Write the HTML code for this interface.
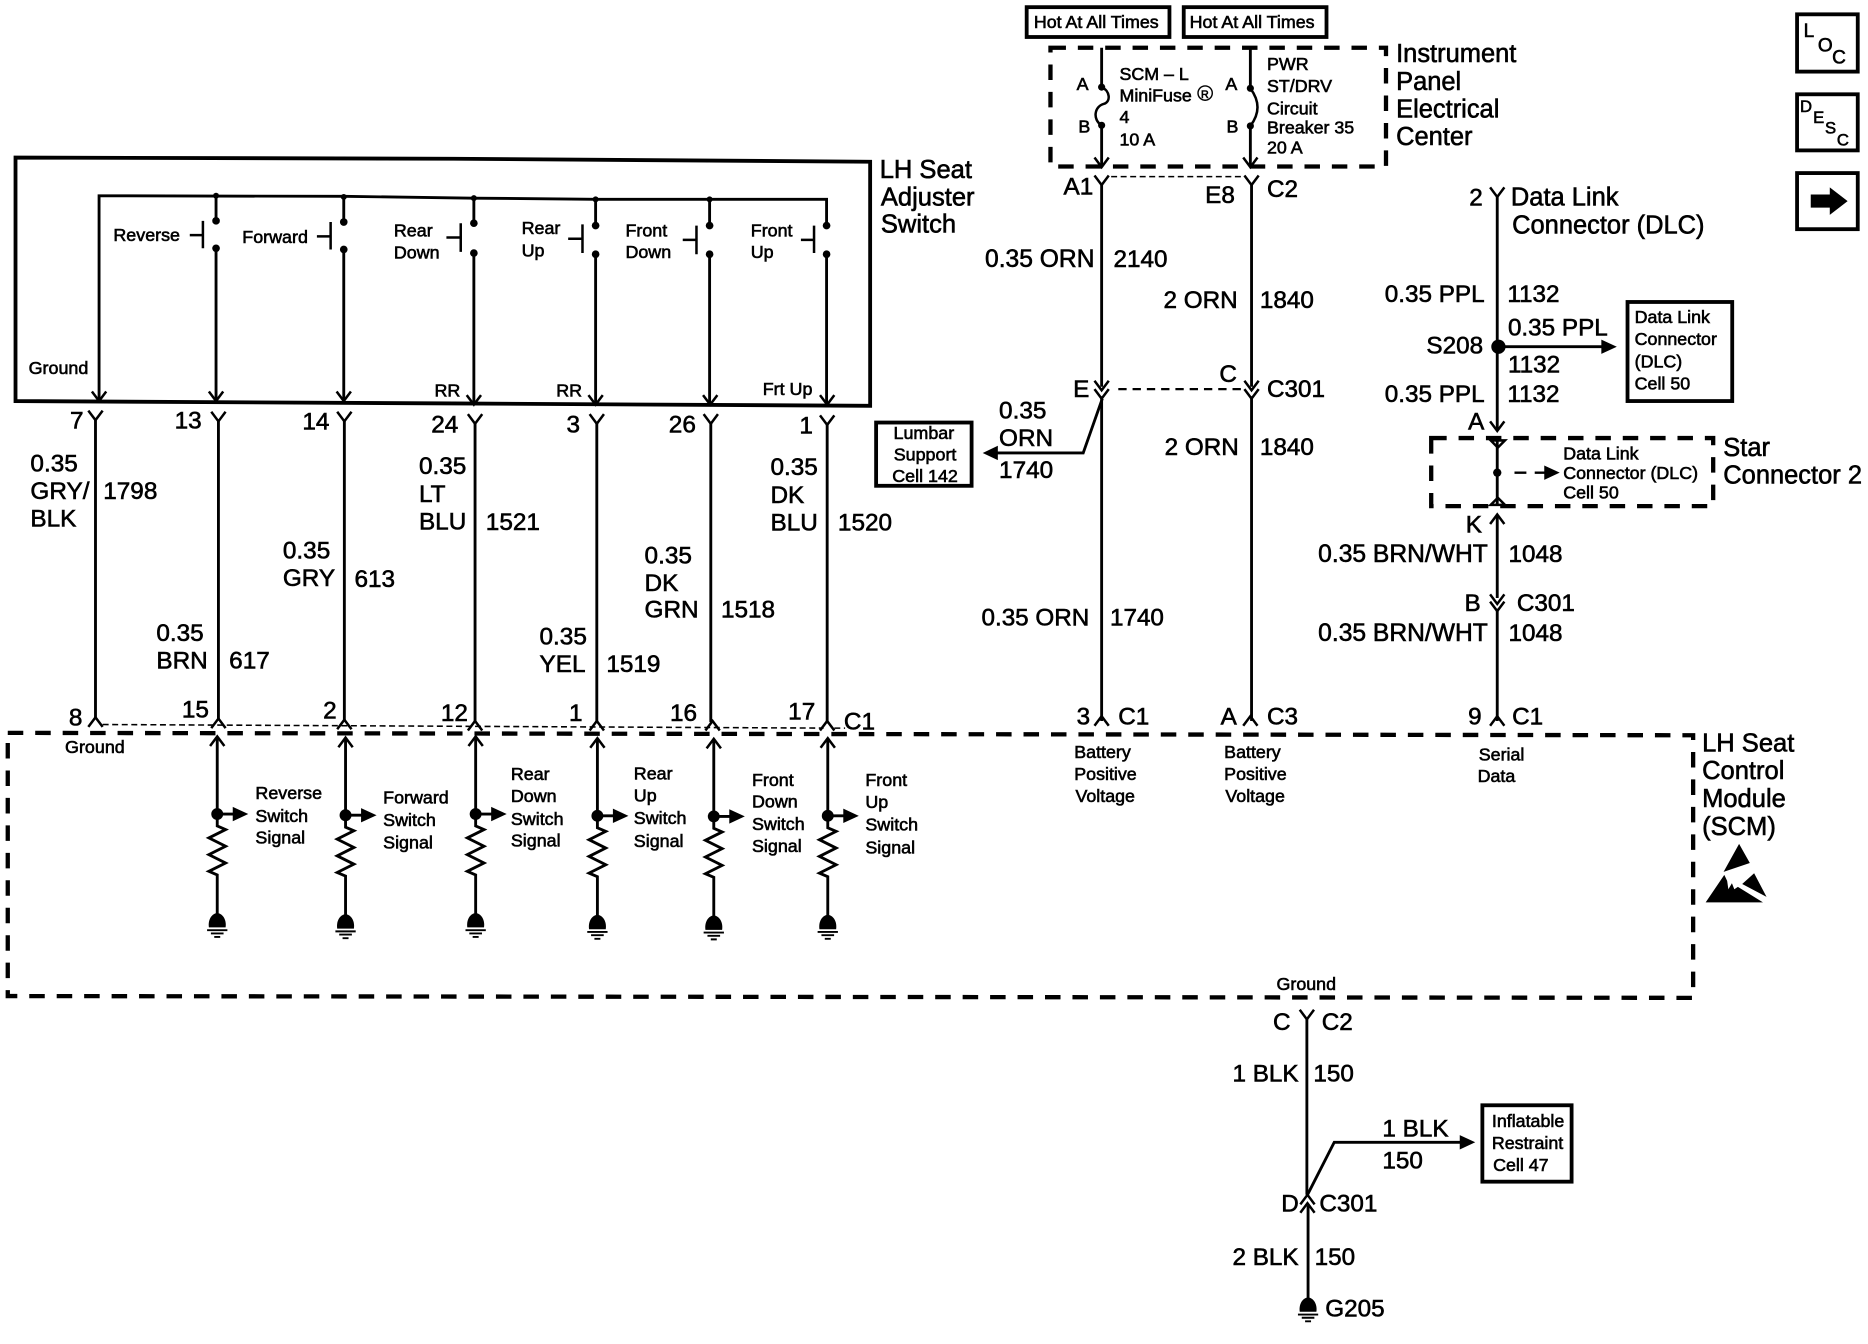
<!DOCTYPE html>
<html><head><meta charset="utf-8"><style>
html,body{margin:0;padding:0;background:#fff}
svg{display:block}
text{font-family:"Liberation Sans",Arial,sans-serif;fill:#000;stroke:#000;stroke-width:.5}
.l{font-size:20.4px}.s{font-size:15px}.e{text-anchor:end}.k{font-size:21.4px}.m{font-size:20.7px}
.w{fill:none;stroke:#000;stroke-width:2.4}
.t{fill:none;stroke:#000;stroke-width:2.1}
.d{fill:none;stroke:#000;stroke-width:3.6;stroke-dasharray:13 10}
.f{fill:none;stroke:#000;stroke-width:1.3;stroke-dasharray:5 3}
.b{fill:none;stroke:#000;stroke-width:3.2}
</style></head><body>
<svg xmlns="http://www.w3.org/2000/svg" width="1868" height="1344" viewBox="0 0 1565 1126" preserveAspectRatio="none">
<defs>
<path id="dn" class="t" d="M-6,-8 L0,0 L6,-8"/>
<path id="up" class="t" d="M-6,8 L0,0 L6,8"/>
<path id="hd" d="M-13,-6 L0,0 L-13,6z" fill="#000"/>
<g id="gnd"><path d="M-7,12 C-8,5 -4,0 0,0 C4,0 8,5 7,12z" fill="#000"/><path d="M-8.500,14.300 H8.500 M-5.300,17 H5.300 M-2.500,20 H2.500" class="t" style="stroke-width:1.600"/></g>
<g id="sig">
<path class="w" d="M0,0 V65 M0,65 H16"/>
<use href="#up" x="0" y="0"/>
<circle cx="0" cy="65" r="5" fill="#000"/>
<use href="#hd" x="26" y="65"/>
<path class="w" d="M0,65 V75 L7,78 L-7,85 L7,92 L-7,99 L7,106 L-7,113 L0,116 V150"/>
<use href="#gnd" x="0" y="148"/>
</g>
</defs>

<!-- LH seat adjuster switch -->
<path class="b" d="M13,132 L380,133 L729,135.500 V340 L380,338 L13,336 Z"/>
<path class="w" d="M83,336 V164 L288,164.500 L397,166 L499,167 H692.500 V187"/>
<use href="#dn" x="83" y="336"/><use href="#dn" x="181" y="336"/><use href="#dn" x="288" y="336"/><use href="#dn" x="397" y="339"/><use href="#dn" x="499" y="339"/><use href="#dn" x="595" y="339"/><use href="#dn" x="693" y="339"/>
<path class="w" d="M181,164 V185 M181,208 V336"/><path class="w" d="M288,164.500 V186 M288,209 V336"/><path class="w" d="M397,166 V187 M397,212 V339"/><path class="w" d="M499,167 V189 M499,213 V339"/><path class="w" d="M594.500,167 V189 M594.500,213 V339"/><path class="w" d="M692.500,213 V339"/>
<g fill="#000">
<circle cx="181" cy="164" r="2.500"/><circle cx="288" cy="165" r="2.500"/><circle cx="397" cy="166" r="2.500"/><circle cx="499" cy="167" r="2.500"/><circle cx="594.500" cy="167" r="2.500"/>
<circle cx="181" cy="185" r="3.200"/><circle cx="181" cy="208" r="3.200"/><circle cx="288" cy="186" r="3.200"/><circle cx="288" cy="209" r="3.200"/><circle cx="397" cy="187" r="3.200"/><circle cx="397" cy="212" r="3.200"/><circle cx="499" cy="189" r="3.200"/><circle cx="499" cy="213" r="3.200"/><circle cx="594.500" cy="189" r="3.200"/><circle cx="594.500" cy="213" r="3.200"/><circle cx="692.500" cy="189" r="3.200"/><circle cx="692.500" cy="213" r="3.200"/>
</g>
<path class="t" d="M170,185 V208 M159,197 H170 M277,186 V209 M265.500,198 H277 M386,187 V211 M374,199 H386 M488,188 V212 M476,200 H488 M583.500,189 V213 M572,201 H583.500 M682,189 V212 M671,201 H682"/>
<text class="s" x="95" y="202">Reverse</text><text class="s" x="203" y="203.500">Forward</text>
<text class="s" x="330" y="198">Rear</text><text class="s" x="330" y="216.500">Down</text>
<text class="s" x="437" y="196">Rear</text><text class="s" x="437" y="215">Up</text>
<text class="s" x="524" y="198">Front</text><text class="s" x="524" y="216">Down</text>
<text class="s" x="629" y="198">Front</text><text class="s" x="629" y="216">Up</text>
<text class="s" x="24" y="313.500">Ground</text><text class="s" x="364" y="332">RR</text><text class="s" x="466" y="332">RR</text><text class="s" x="639" y="331">Frt Up</text>
<text class="k" x="737" y="149">LH Seat</text><text class="k" x="738" y="172">Adjuster</text><text class="k" x="738" y="195">Switch</text>

<!-- Seat wires -->
<path class="w" d="M80,352 V602 M183,352 V603 M288.500,352 V604 M398,354 V605 M500,354 V605 M595.500,354 V605 M693,354 V606"/>
<use href="#dn" x="80" y="352"/><use href="#dn" x="183" y="353"/><use href="#dn" x="288.500" y="353"/><use href="#dn" x="398" y="355"/><use href="#dn" x="500" y="355"/><use href="#dn" x="595.500" y="355"/><use href="#dn" x="693" y="356"/>
<use href="#up" x="80" y="601"/><use href="#up" x="183" y="602"/><use href="#up" x="288.500" y="603"/><use href="#up" x="398" y="604"/><use href="#up" x="500" y="604"/><use href="#up" x="597" y="604"/><use href="#up" x="693" y="604"/>
<path class="f" d="M86,607 L690,610 M699,610 L708,610"/>
<text class="l e" x="70" y="359">7</text><text class="l e" x="169" y="359">13</text><text class="l e" x="276" y="360">14</text><text class="l e" x="384" y="362.500">24</text><text class="l e" x="486" y="362.500">3</text><text class="l e" x="583" y="362.500">26</text><text class="l e" x="681" y="363">1</text>
<text class="l e" x="69" y="608">8</text><text class="l e" x="175" y="601">15</text><text class="l e" x="282" y="602">2</text><text class="l e" x="392" y="604">12</text><text class="l e" x="488" y="604">1</text><text class="l e" x="584" y="604">16</text><text class="l e" x="683" y="603">17</text><text class="l" x="707" y="611">C1</text>

<text class="l" x="25.500" y="395">0.35</text><text class="l" x="25.500" y="418">GRY/</text><text class="l" x="25.500" y="441">BLK</text><text class="l" x="86.500" y="418">1798</text>
<text class="l" x="131" y="537">0.35</text><text class="l" x="131" y="560">BRN</text><text class="l" x="192" y="560">617</text>
<text class="l" x="237" y="468">0.35</text><text class="l" x="237" y="491">GRY</text><text class="l" x="297" y="492">613</text>
<text class="l" x="351" y="397">0.35</text><text class="l" x="351" y="420.500">LT</text><text class="l" x="351" y="443.500">BLU</text><text class="l" x="407" y="444">1521</text>
<text class="l" x="452" y="540">0.35</text><text class="l" x="452" y="563">YEL</text><text class="l" x="508" y="563">1519</text>
<text class="l" x="540" y="472">0.35</text><text class="l" x="540" y="495">DK</text><text class="l" x="540" y="517.500">GRN</text><text class="l" x="604" y="517.500">1518</text>
<text class="l" x="645.500" y="398">0.35</text><text class="l" x="645.500" y="421.500">DK</text><text class="l" x="645.500" y="444.500">BLU</text><text class="l" x="702" y="444.500">1520</text>

<!-- SCM box -->
<path class="d" d="M6.500,614 L1418.500,616 V836 L6.500,834.500 Z"/>
<text class="s" x="54.500" y="631">Ground</text>
<use href="#sig" x="182" y="617"/><use href="#sig" x="289.500" y="618"/><use href="#sig" x="398.500" y="617"/><use href="#sig" x="500.500" y="618.500"/><use href="#sig" x="598" y="619"/><use href="#sig" x="693.500" y="618.500"/>
<text class="s" x="214" y="669.500">Reverse</text><text class="s" x="214" y="688.500">Switch</text><text class="s" x="214" y="706.500">Signal</text>
<text class="s" x="321" y="673">Forward</text><text class="s" x="321" y="692">Switch</text><text class="s" x="321" y="711">Signal</text>
<text class="s" x="428" y="653.500">Rear</text><text class="s" x="428" y="672">Down</text><text class="s" x="428" y="691">Switch</text><text class="s" x="428" y="709">Signal</text>
<text class="s" x="531" y="653">Rear</text><text class="s" x="531" y="671.500">Up</text><text class="s" x="531" y="690.500">Switch</text><text class="s" x="531" y="709.500">Signal</text>
<text class="s" x="630" y="658.500">Front</text><text class="s" x="630" y="676.500">Down</text><text class="s" x="630" y="695.500">Switch</text><text class="s" x="630" y="714">Signal</text>
<text class="s" x="725" y="658.500">Front</text><text class="s" x="725" y="677">Up</text><text class="s" x="725" y="696">Switch</text><text class="s" x="725" y="715">Signal</text>
<text class="k" x="1426" y="629.500">LH Seat</text><text class="k" x="1426" y="652.500">Control</text><text class="k" x="1426" y="676">Module</text><text class="k" x="1426" y="699.500">(SCM)</text>
<path fill="#000" d="M1457,707 L1466,723 L1444,730.500 Z M1429,756 L1444.600,733 L1447,738 L1448,745 L1451,740 L1453,745 L1456,743 L1477,756 Z M1469.600,731.600 L1480,751.400 L1459.600,740.600 Z"/>

<!-- Lumbar -->
<path class="w" d="M923.500,334 L907.500,379.500 H832"/>
<path d="M836,373.500 L823.300,379.500 L836,385.500z" fill="#000"/>
<rect class="b" x="734" y="354" width="80" height="53"/>
<text class="s" x="774" y="368" text-anchor="middle">Lumbar</text><text class="s" x="775" y="386" text-anchor="middle">Support</text><text class="s" x="775" y="404" text-anchor="middle">Cell 142</text>
<text class="l" x="837" y="350.500">0.35</text><text class="l" x="837" y="373.500">ORN</text><text class="l" x="837" y="400.500">1740</text>

<g transform="matrix(.9968 0 0 1 1.900 0)">
<!-- Hot at all times -->
<rect class="b" x="861" y="6" width="120" height="25"/><rect class="b" x="993" y="6" width="120" height="25"/>
<text class="s" x="867" y="23.500">Hot At All Times</text><text class="s" x="998" y="23.500">Hot At All Times</text>
<path class="d" d="M881,40 H1163 V139.500 H881 Z"/>
<path class="w" d="M924,40 V73 M924,105 V139 M1049,40 V74 M1049,105.500 V139"/>
<use href="#dn" x="924" y="140"/><use href="#dn" x="1049" y="140"/>
<circle cx="924" cy="73" r="3" fill="#000"/><circle cx="924" cy="105" r="3" fill="#000"/><circle cx="1049" cy="74" r="3" fill="#000"/><circle cx="1049" cy="105.500" r="3" fill="#000"/>
<path class="t" d="M924,73 C931,76 932,85 926,87 C918,89 916,100 924,105 M1049,74 Q1061,90 1049,105.500"/>
<text class="s" x="903" y="75.500">A</text><text class="s" x="904.500" y="111">B</text><text class="s" x="1028" y="75.500">A</text><text class="s" x="1029" y="111">B</text>
<text class="s" x="939" y="67">SCM – L</text><text class="s" x="939" y="85">MiniFuse</text><circle cx="1011" cy="78" r="6" fill="none" stroke="#000" stroke-width="1.200"/><text x="1007.500" y="82" font-size="9">R</text><text class="s" x="939" y="103">4</text><text class="s" x="939" y="122">10 A</text>
<text class="s" x="1063" y="58.500">PWR</text><text class="s" x="1063" y="77">ST/DRV</text><text class="s" x="1063" y="96">Circuit</text><text class="s" x="1063" y="112">Breaker 35</text><text class="s" x="1063" y="128.500">20 A</text>
<text class="k" x="1171.500" y="52">Instrument</text><text class="k" x="1171.500" y="75.500">Panel</text><text class="k" x="1171.500" y="98.500">Electrical</text><text class="k" x="1171.500" y="121.500">Center</text>

<!-- Power wires -->
<path class="w" d="M924,154 V324 M924,332 V604 M1050,154 V324 M1050,332 V604"/>
<use href="#dn" x="924" y="155"/><use href="#dn" x="1050" y="155"/>
<path class="f" d="M932,148 H1042"/>
<text class="l" x="892" y="163">A1</text><text class="l" x="1011" y="170">E8</text><text class="l" x="1063" y="165">C2</text>
<text class="m e" x="918" y="223.500">0.35 ORN</text><text class="l" x="934" y="223.500">2140</text>
<text class="l" x="976" y="258">2 ORN</text><text class="l" x="1057" y="258">1840</text>
<use href="#dn" x="924" y="327"/><use href="#dn" x="1050" y="327"/><use href="#dn" x="924" y="334"/><use href="#dn" x="1050" y="334"/>
<path d="M938,326 H1042" fill="none" stroke="#000" stroke-width="1.800" stroke-dasharray="7 5"/>
<text class="l" x="900" y="332.500">E</text><text class="l" x="1023" y="320">C</text><text class="l" x="1063" y="332.500">C301</text>
<text class="l" x="977" y="381">2 ORN</text><text class="l" x="1057" y="381">1840</text>
<text class="l" x="823" y="524">0.35 ORN</text><text class="l" x="931" y="524">1740</text>
<use href="#up" x="924" y="600"/><use href="#up" x="1049" y="600"/><use href="#up" x="1256.500" y="600"/>
<text class="l" x="903" y="607">3</text><text class="l" x="938" y="607">C1</text><text class="l" x="1024" y="607">A</text><text class="l" x="1063" y="607">C3</text><text class="l" x="1232" y="607">9</text><text class="l" x="1269" y="607">C1</text>
<text class="s" x="901" y="635">Battery</text><text class="s" x="901" y="653.500">Positive</text><text class="s" x="902" y="672">Voltage</text>
<text class="s" x="1027" y="635">Battery</text><text class="s" x="1027" y="653.500">Positive</text><text class="s" x="1028" y="672">Voltage</text>
<text class="s" x="1241" y="637">Serial</text><text class="s" x="1240" y="655">Data</text>

<!-- DLC -->
<path class="w" d="M1256.500,164 V360 M1256.500,368 V423 M1256.500,432 V501 M1256.500,510 V604"/>
<use href="#dn" x="1256.500" y="165"/>
<text class="l" x="1233" y="172">2</text><text class="k" x="1268" y="172">Data Link</text><text class="k" x="1269" y="195.500">Connector (DLC)</text>
<text class="l" x="1162" y="253">0.35 PPL</text><text class="l" x="1265" y="253">1132</text><text class="l" x="1265.500" y="281">0.35 PPL</text>
<text class="l" x="1197" y="296">S208</text><circle cx="1257.500" cy="290.500" r="6" fill="#000"/>
<path class="w" d="M1258,290.500 H1346"/><use href="#hd" x="1357" y="290.500"/>
<text class="l" x="1265.500" y="312">1132</text><text class="l" x="1162" y="337">0.35 PPL</text><text class="l" x="1265" y="337">1132</text>
<text class="l" x="1232" y="360">A</text><use href="#dn" x="1256.500" y="361"/>
<rect class="b" x="1366" y="253" width="88" height="83"/>
<text class="s" x="1372" y="270.500">Data Link</text><text class="s" x="1372" y="289">Connector</text><text class="s" x="1372" y="308">(DLC)</text><text class="s" x="1372" y="326.500">Cell 50</text>
<path class="d" d="M1201,367 H1438 V424 H1201 Z"/>
<path class="t" d="M1251,369 H1263 L1257,375 Z M1251,423 H1263 L1257,417 Z"/>
<circle cx="1256.500" cy="396" r="3.500" fill="#000"/>
<path d="M1271,396 H1281 M1288,396 H1298" fill="none" stroke="#000" stroke-width="2"/><use href="#hd" x="1309" y="396"/>
<text class="s" x="1312" y="385">Data Link</text><text class="s" x="1312" y="401.500">Connector (DLC)</text><text class="s" x="1312" y="417.500">Cell 50</text>
<text class="k" x="1446.500" y="382">Star</text><text class="k" x="1446.500" y="405">Connector 2</text>
<use href="#up" x="1256.500" y="431"/>
<text class="l" x="1230" y="446">K</text>
<text class="m" x="1106" y="471">0.35 BRN/WHT</text><text class="l" x="1266" y="471">1048</text>
<text class="l" x="1229" y="512">B</text><text class="l" x="1273" y="512">C301</text>
<use href="#dn" x="1256.500" y="506"/><use href="#dn" x="1256.500" y="512"/>
<text class="m" x="1106" y="537">0.35 BRN/WHT</text><text class="l" x="1266" y="537">1048</text>

<!-- Ground -->
<text class="s" x="1071" y="829.500">Ground</text>
<path class="w" d="M1096.500,853 V1001 M1097.500,1010 V1090"/><use href="#dn" x="1096.500" y="854"/>
<text class="l" x="1068" y="863">C</text><text class="l" x="1109" y="863">C2</text>
<text class="l" x="1034" y="906">1 BLK</text><text class="l" x="1102" y="906">150</text>
<path class="w" d="M1097,1001 L1119.500,957 H1227"/><use href="#hd" x="1238" y="957"/>
<text class="l" x="1160" y="952">1 BLK</text><text class="l" x="1160" y="979">150</text>
<rect class="b" x="1244" y="926" width="75" height="64"/>
<text class="s" x="1252" y="944">Inflatable</text><text class="s" x="1252" y="962.500">Restraint</text><text class="s" x="1253" y="981">Cell 47</text>
<use href="#up" x="1097" y="1001"/><use href="#up" x="1097" y="1008"/>
<text class="l" x="1075" y="1015">D</text><text class="l" x="1107" y="1015">C301</text>
<text class="l" x="1034" y="1060">2 BLK</text><text class="l" x="1103" y="1060">150</text>
<use href="#gnd" x="1097.500" y="1087"/><text class="l" x="1112" y="1103">G205</text>

<!-- Icons -->
<rect class="b" x="1508.500" y="12" width="51" height="48"/><rect class="b" x="1508.500" y="79" width="51" height="47"/><rect class="b" x="1508.500" y="145" width="51" height="47"/>
<text x="1514" y="31" font-size="16">L</text><text x="1526" y="43" font-size="16">O</text><text x="1538" y="53" font-size="16">C</text>
<text x="1511" y="94" font-size="14">D</text><text x="1522" y="103" font-size="14">E</text><text x="1532" y="112" font-size="14">S</text><text x="1542" y="122" font-size="14">C</text>
<path fill="#000" d="M1520,163 H1536 V157 L1551,168.500 L1536,180 V174 H1520 Z"/>
</g>
</svg>
</body></html>
